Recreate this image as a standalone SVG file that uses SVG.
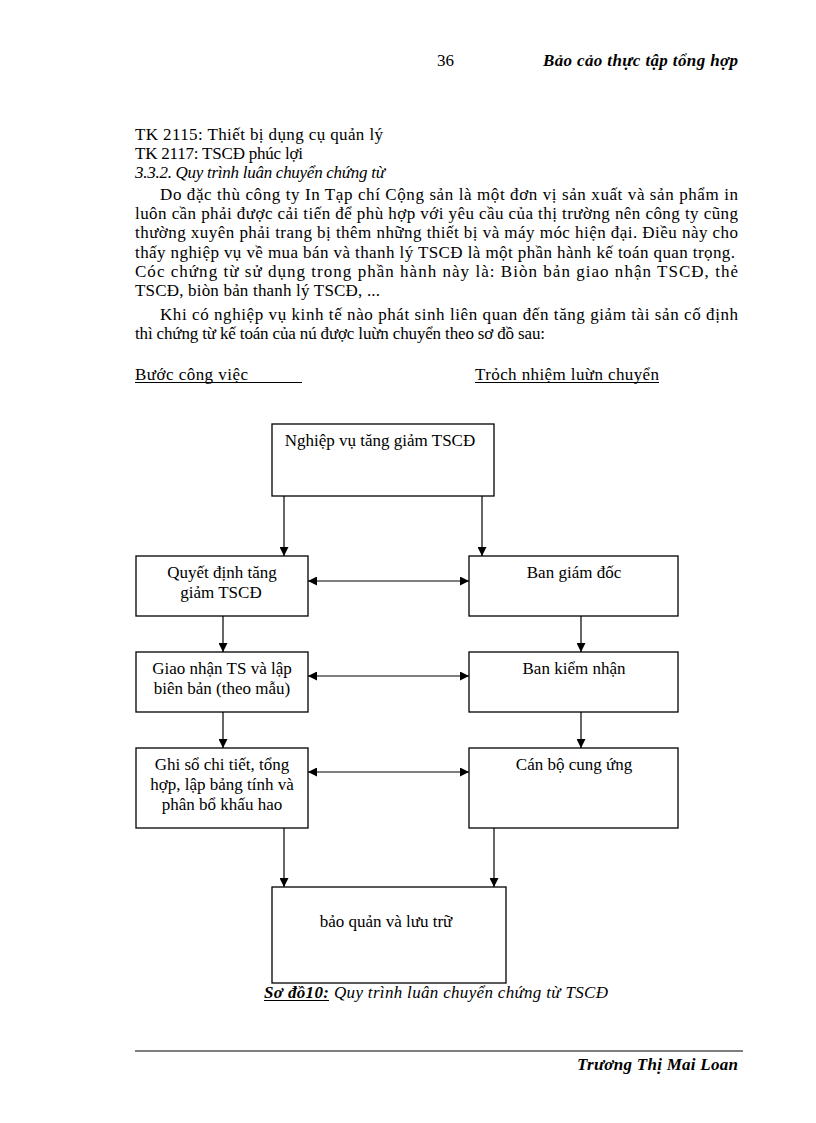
<svg xmlns="http://www.w3.org/2000/svg" width="816" height="1123" viewBox="0 0 816 1123">
<style>
text{font-family:"Liberation Serif","Times New Roman",serif;font-size:17px;fill:#000}
.bi{font-weight:bold;font-style:italic}
.it{font-style:italic}
.box{fill:#fff;stroke:#000;stroke-width:1.3}
.ln{stroke:#000;stroke-width:1.2;fill:none}
.c{text-anchor:middle}
</style>
<defs>
<marker id="ah" viewBox="0 0 10 10" refX="10" refY="5" markerWidth="9" markerHeight="9" markerUnits="userSpaceOnUse" orient="auto-start-reverse">
<path d="M0,0 L10,5 L0,10 z" fill="#000"/>
</marker>
</defs>

<g id="header">
<text x="437" y="66">36</text>
<text x="543" y="66" class="bi" textLength="195" lengthAdjust="spacing">Bảo cảo thực tập tổng hợp</text>
</g>

<g id="body">
<text x="135" y="140" textLength="248" lengthAdjust="spacing">TK 2115: Thiết bị dụng cụ quản lý</text>
<text x="135" y="159" textLength="168" lengthAdjust="spacing">TK 2117: TSCĐ phúc lợi</text>
<text x="135" y="178" class="it" textLength="250" lengthAdjust="spacing">3.3.2. Quy trình luân chuyển chứng từ</text>
<text x="160" y="200" textLength="578" lengthAdjust="spacing">Do đặc thù công ty In Tạp  chí Cộng sản là một đơn vị sản xuất và sản phẩm in</text>
<text x="135" y="219" textLength="603" lengthAdjust="spacing">luôn cần phải được cải tiến để phù hợp với yêu cầu của thị trường nên công ty cũng</text>
<text x="135" y="238" textLength="603" lengthAdjust="spacing">thường xuyên phải trang bị thêm những thiết bị và máy móc hiện đại. Điều này cho</text>
<text x="135" y="258" textLength="600" lengthAdjust="spacing">thấy nghiệp vụ về mua bán và thanh lý TSCĐ  là một phần hành kế toán quan trọng.</text>
<text x="135" y="277" textLength="603" lengthAdjust="spacing">Cóc chứng từ sử dụng trong phần hành này là: Biòn bản giao nhận TSCĐ, thẻ</text>
<text x="135" y="296" textLength="245" lengthAdjust="spacing">TSCĐ, biòn bản thanh lý TSCĐ, ...</text>
<text x="160" y="320" textLength="578" lengthAdjust="spacing">Khi có nghiệp vụ kinh tế nào phát sinh liên quan đến tăng giảm tài sản cố định</text>
<text x="135" y="339" font-size="16" textLength="410" lengthAdjust="spacing">thì chứng từ kế toán của nú được luừn chuyển theo sơ đồ sau:</text>
<text x="135" y="380" textLength="113" lengthAdjust="spacing">Bước công việc</text>
<line class="ln" x1="135" y1="382.5" x2="302" y2="382.5" stroke-width="1"/>
<text x="475" y="380" textLength="184" lengthAdjust="spacing">Trỏch nhiệm luừn chuyển</text>
<line class="ln" x1="475" y1="382.5" x2="659" y2="382.5" stroke-width="1"/>
</g>

<g id="n-top">
<rect class="box" x="272" y="424" width="222" height="72"/>
<text x="380" y="446" class="c">Nghiệp vụ tăng giảm TSCĐ</text>
</g>
<g id="n-quyetdinh">
<rect class="box" x="136" y="556" width="172" height="60"/>
<text x="222" y="578" class="c">Quyết định tăng</text>
<text x="221" y="598" class="c">giảm TSCĐ</text>
</g>
<g id="n-bangiamdoc">
<rect class="box" x="469" y="556" width="209" height="60"/>
<text x="574" y="578" class="c">Ban giám đốc</text>
</g>
<g id="n-giaonhan">
<rect class="box" x="136" y="652" width="172" height="60"/>
<text x="222" y="674" class="c">Giao nhận TS và lập</text>
<text x="222" y="694" class="c">biên bản (theo mẫu)</text>
</g>
<g id="n-bankiemnhan">
<rect class="box" x="469" y="652" width="209" height="60"/>
<text x="574" y="674" class="c">Ban kiểm nhận</text>
</g>
<g id="n-ghiso">
<rect class="box" x="136" y="748" width="172" height="80"/>
<text x="222" y="770" class="c">Ghi sổ chi tiết, tổng</text>
<text x="222" y="790" class="c">hợp, lập bảng tính và</text>
<text x="222" y="810" class="c">phân bổ khấu hao</text>
</g>
<g id="n-canbo">
<rect class="box" x="469" y="748" width="209" height="80"/>
<text x="574" y="770" class="c">Cán bộ cung ứng</text>
</g>
<g id="n-baoquan">
<rect class="box" x="272" y="887" width="234" height="96"/>
<text x="386" y="927" class="c">bảo quản và lưu trữ</text>
</g>

<g id="connectors">
<line class="ln" x1="284" y1="496" x2="284" y2="556" marker-end="url(#ah)"/>
<line class="ln" x1="482" y1="496" x2="482" y2="556" marker-end="url(#ah)"/>
<line class="ln" x1="308" y1="581" x2="469" y2="581" marker-start="url(#ah)" marker-end="url(#ah)"/>
<line class="ln" x1="223" y1="616" x2="223" y2="652" marker-end="url(#ah)"/>
<line class="ln" x1="581" y1="616" x2="581" y2="652" marker-end="url(#ah)"/>
<line class="ln" x1="308" y1="676" x2="469" y2="676" marker-start="url(#ah)" marker-end="url(#ah)"/>
<line class="ln" x1="223" y1="712" x2="223" y2="748" marker-end="url(#ah)"/>
<line class="ln" x1="581" y1="712" x2="581" y2="748" marker-end="url(#ah)"/>
<line class="ln" x1="308" y1="772" x2="469" y2="772" marker-start="url(#ah)" marker-end="url(#ah)"/>
<line class="ln" x1="284" y1="828" x2="284" y2="887" marker-end="url(#ah)"/>
<line class="ln" x1="494" y1="828" x2="494" y2="887" marker-end="url(#ah)"/>
</g>

<g id="caption">
<text x="264" y="998" class="bi" textLength="65" lengthAdjust="spacing">Sơ đồ10:</text>
<text x="334" y="998" class="it" textLength="274" lengthAdjust="spacing">Quy trình luân chuyển chứng từ TSCĐ</text>
<line class="ln" x1="264" y1="1000.5" x2="329" y2="1000.5" stroke-width="1"/>
</g>

<g id="footer">
<line class="ln" x1="135" y1="1051" x2="743" y2="1051" stroke-width="1"/>
<text x="577" y="1070" class="bi" textLength="161" lengthAdjust="spacing">Trương Thị Mai Loan</text>
</g>
</svg>
